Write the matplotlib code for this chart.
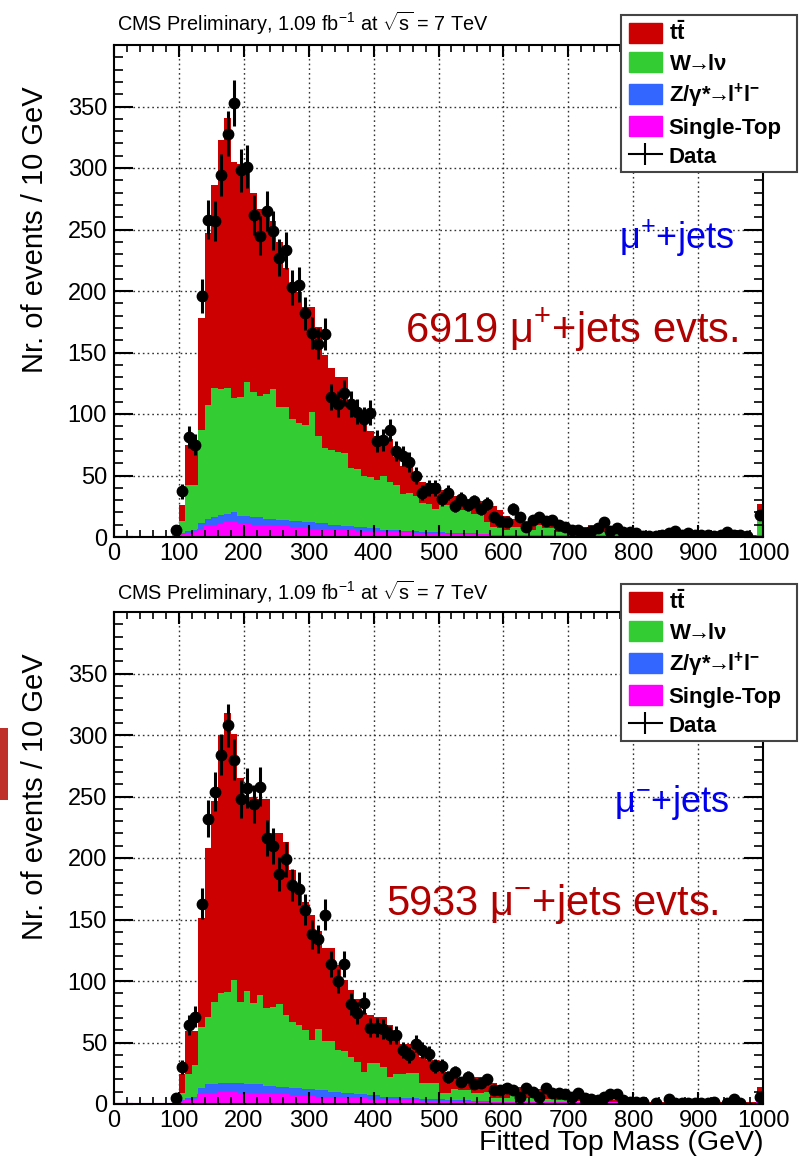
import numpy as np
import matplotlib
matplotlib.use("Agg")
import matplotlib.pyplot as plt
from matplotlib.ticker import MultipleLocator
from matplotlib.lines import Line2D
from matplotlib.patches import Patch, Rectangle

plt.rcParams['font.family'] = ['Liberation Sans', 'DejaVu Sans']
plt.rcParams['mathtext.fontset'] = 'custom'
plt.rcParams['mathtext.rm'] = 'Liberation Sans'
plt.rcParams['mathtext.it'] = 'Liberation Sans:italic'
plt.rcParams['mathtext.bf'] = 'Liberation Sans:bold'

nan = np.nan
bin_edges = np.arange(0, 1001, 10)
x_ticks = [0, 100, 200, 300, 400, 500, 600, 700, 800, 900, 1000]
y_ticks = [0, 50, 100, 150, 200, 250, 300, 350]

# ---------------- mu+ jets (top panel) ----------------
plus_ttbar = [0, 0, 0, 0, 0, 0, 0, 0, 0, 0.5,
              13, 33, 33, 91, 140, 165, 203, 220, 192, 189,
              175, 162, 152, 147, 137, 134, 113, 103, 106, 96,
              85, 89, 76, 66, 61, 62, 54, 47, 42, 37,
              36, 32, 35, 23, 23, 21, 17, 17, 17, 21,
              12, 12, 11, 9, 9, 10, 10, 16, 17, 15,
              11, 7, 6, 7, 7, 2, 4, 4, 6, 6,
              6, 5, 5, 2, 2, 3, 3, 2, 2, 2,
              1.5, 0.8, 0.8, 0.9, 0.7, 0.8, 0.8, 0.7, 0.8, 0.8,
              0.7, 0.8, 0.8, 0.7, 0.8, 0.8, 0.7, 0.8, 0.8, 8]
plus_wjets = [0, 0, 0, 0, 0, 0, 0, 0, 0, 1.0,
              10, 37, 36, 76, 92, 105, 102, 102, 93, 97,
              109, 102, 99, 101, 105, 92, 92, 83, 80, 79,
              90, 71, 61, 61, 59, 59, 47, 47, 42, 42,
              39, 44, 39, 36, 30, 31, 28, 24, 23, 19,
              22, 23, 19, 19, 19, 16, 16.5, 9.5, 6, 5,
              4, 6, 6, 4.5, 4.5, 8.5, 5.5, 5.5, 2.8, 2.8,
              2, 2, 2, 7, 7, 3, 2, 2, 1.2, 1.2,
              0.7, 0.5, 0.5, 0.6, 0.5, 0.5, 0.6, 0.5, 0.5, 0.5,
              0.5, 0.5, 0.6, 0.5, 0.5, 0.5, 0.5, 0.5, 0.5, 17]
plus_zjets = [0, 0, 0, 0, 0, 0, 0, 0, 0, 0.3,
              1.5, 2.5, 3, 5, 7, 7, 8, 8, 9, 7,
              7, 7, 7, 6, 7, 6, 6, 6, 6, 5,
              6, 5, 5, 5, 5, 4, 4, 4, 4, 3,
              3, 3, 3, 3, 2, 2, 2.5, 1.5, 2, 2,
              2, 1, 1, 1.5, 1.5, 1.5, 1, 1, 1, 1,
              1, 1, 1, 0.5, 0.5, 0.5, 0.7, 0.7, 0.4, 0.5,
              0.3, 0.3, 0.4, 0.4, 0.4, 0.5, 0.5, 0.5, 0.3, 0.3,
              0.3, 0.3, 0.3, 0.3, 0.3, 0.3, 0.3, 0.3, 0.3, 0.3,
              0.3, 0.3, 0.3, 0.3, 0.3, 0.3, 0.3, 0.3, 0.3, 1]
plus_stop = [0, 0, 0, 0, 0, 0, 0, 0, 0, 0.2,
             1.5, 2.5, 3, 6, 8, 9, 10, 11, 11, 10,
             10, 9, 9, 9, 8, 8, 8, 7, 7, 7,
             6, 6, 6, 5, 5, 5, 5, 4, 4, 4,
             4, 3, 3, 3, 3, 3, 2.5, 2.5, 2, 2,
             2, 2, 2, 1.5, 1.5, 1.5, 1.5, 1.5, 1, 1,
             1, 1, 1, 1, 1, 1, 0.8, 0.8, 0.8, 0.7,
             0.7, 0.7, 0.6, 0.6, 0.6, 0.5, 0.5, 0.5, 0.5, 0.5,
             0.5, 0.4, 0.4, 0.4, 0.4, 0.4, 0.4, 0.4, 0.4, 0.4,
             0.4, 0.4, 0.4, 0.4, 0.4, 0.4, 0.4, 0.4, 0.4, 1]
plus_data = [nan, nan, nan, nan, nan, nan, nan, nan, nan, 6,
             37, 81, 75, 196, 258, 257, 294, 328, 353, 298,
             301, 262, 245, 265, 249, 227, 233, 203, 205, 182,
             166, 157, 165, 114, 108, 117, 108, 102, 96, 101,
             78, 79, 87, 70, 66, 61, 50, 36, 40, 40,
             31, 36, 25, 31, 26, 29, 23, 27, 16, 13,
             12, 23, 16, 8, 14, 16, 13, 14, 10, 8,
             6, 6, 3, 5, 7, 12, 5, 7, 4, 4,
             3, 1, 1, 1, 2, 3, 5, 2, 3, 2,
             2, 2, 1, 2, 4, 2, 2, 1, nan, 18]

# ---------------- mu- jets (bottom panel) ----------------
minus_ttbar = [0, 0, 0, 0, 0, 0, 0, 0, 0, 0.2,
               15, 35, 27, 88, 137, 163, 210, 227, 200, 182,
               158, 168, 159, 170, 141, 139, 141, 123, 107, 104,
               102, 80, 76, 76, 69, 58, 55, 51, 48, 39,
               38, 41, 42, 31, 25, 24, 22, 21, 19, 19,
               17, 17, 13, 10, 10, 13, 13, 10, 12, 9,
               9, 6, 9, 9, 9, 7, 6, 6, 4.5, 4,
               3, 3, 3, 3, 3, 2, 1.5, 1.5, 1.5, 1.5,
               0.5, 0.5, 0.5, 0.5, 0.5, 0.5, 0.5, 0.5, 0.5, 0.5,
               0.5, 0.5, 0.5, 0.5, 0.5, 0.5, 0.5, 0.5, 0.5, 4.8]
minus_wjets = [0, 0, 0, 0, 0, 0, 0, 0, 0, 0.4,
               6, 19, 26, 50, 55, 67, 73, 74, 84, 66,
               76, 66, 73, 63, 64, 67, 58, 54, 51, 48,
               40, 50, 40, 41, 34, 34, 29, 26, 18, 26,
               26, 24, 16, 18, 19, 20, 20, 13, 13, 13,
               5, 6, 9, 8, 8, 6.5, 6.5, 7.5, 3, 3,
               3, 6, 3.5, 3.5, 3.5, 3.5, 2.5, 2.8, 2.3, 2,
               2, 1.5, 1.5, 1, 1.2, 1.2, 0.7, 0.7, 0.7, 0.7,
               0.4, 0.4, 0.4, 0.4, 0.4, 0.4, 0.4, 0.4, 0.4, 0.4,
               0.4, 0.4, 0.4, 0.4, 0.4, 0.4, 0.4, 0.4, 0.4, 7.2]
minus_zjets = [0, 0, 0, 0, 0, 0, 0, 0, 0, 0.2,
               1.5, 2.5, 3, 6, 8, 8, 8, 8, 8, 9,
               8, 8, 8, 7, 8, 7, 7, 7, 7, 6,
               6, 6, 6, 5, 5, 5, 5, 4, 4, 4,
               4, 3, 3, 3, 2, 2.5, 2.5, 2, 2, 2,
               2, 1, 1.5, 1.5, 1.5, 1, 1, 1.3, 1, 1,
               1, 1, 0.5, 0.5, 0.5, 0.7, 0.7, 0.4, 0.5, 0.3,
               0.4, 0.4, 0.4, 0.5, 0.3, 0.3, 0.3, 0.3, 0.3, 0.3,
               0.2, 0.2, 0.2, 0.2, 0.2, 0.2, 0.2, 0.2, 0.2, 0.2,
               0.2, 0.2, 0.2, 0.2, 0.2, 0.2, 0.2, 0.2, 0.2, 0.7]
minus_stop = [0, 0, 0, 0, 0, 0, 0, 0, 0, 0.2,
              1.5, 2.5, 3, 7, 8, 8, 9, 9, 9, 8,
              8, 8, 8, 8, 7, 7, 7, 6, 6, 6,
              6, 5, 5, 5, 5, 4, 4, 4, 4, 3,
              3, 3, 3, 3, 3, 2.5, 2.5, 2, 2, 2,
              2, 2, 1.5, 1.5, 1.5, 1.5, 1.5, 1.2, 1, 1,
              1, 1, 1, 1, 1, 0.8, 0.8, 0.8, 0.7, 0.7,
              0.6, 0.6, 0.6, 0.5, 0.5, 0.5, 0.5, 0.5, 0.5, 0.5,
              0.4, 0.4, 0.4, 0.4, 0.4, 0.4, 0.4, 0.4, 0.4, 0.4,
              0.4, 0.4, 0.4, 0.4, 0.4, 0.4, 0.4, 0.4, 0.4, 0.8]
minus_data = [nan, nan, nan, nan, nan, nan, nan, nan, nan, 5,
              30, 64, 71, 163, 232, 254, 284, 308, 280, 248,
              257, 244, 258, 216, 210, 187, 199, 178, 175, 158,
              138, 134, 154, 114, 100, 114, 81, 74, 82, 62,
              62, 61, 56, 56, 44, 40, 49, 44, 41, 31,
              31, 22, 26, 18, 22, 16, 17, 20, 11, 11,
              13, 11, 6, 13, 10, 6, 13, 9, 9, 8,
              6, 9, 5, 4, 3, 6, 8, 8, 3, 2,
              2, 2, nan, 1, nan, 4, 1, 1, 1, 1,
              1, 1, 2, nan, 1, 4, 1, nan, nan, 6]

legend_labels = [r'$\mathbf{t\bar{t}}$', r'W$\!\!\mathbf{\rightarrow}\!\!$l$\mathbf{\nu}$',
                 r'Z/$\mathbf{\gamma}$*$\!\!\mathbf{\rightarrow}\!\!$l$^{\mathbf{+}}$l$^{\mathbf{-}}$',
                 'Single-Top', 'Data']
colors = ['#CC0000', '#33CC33', '#3366FF', '#FF00FF']

W, H = 805, 1173
fig = plt.figure(figsize=(W / 100, H / 100), dpi=100)


def px_axes(left, top, right, bottom):
    return fig.add_axes([left / W, 1 - bottom / H, (right - left) / W, (bottom - top) / H])


def draw_panel(ax, tt, wj, zj, st, data, tag, count_text, tag_xy, count_xy):
    tt, wj, zj, st = map(np.asarray, (tt, wj, zj, st))
    c1 = st
    c2 = st + zj
    c3 = c2 + wj
    c4 = c3 + tt
    ax.set_xlim(0, 1000)
    ax.set_ylim(0, 400)
    for xv in x_ticks[1:-1]:
        ax.axvline(xv, color='#333333', lw=1.0, ls=(0, (1.2, 2.2)), zorder=0.3)
    for yv in y_ticks[1:]:
        ax.axhline(yv, color='#333333', lw=1.0, ls=(0, (1.2, 2.2)), zorder=0.3)
    for vals, col, z in zip([c4, c3, c2, c1], colors, [1.0, 1.1, 1.2, 1.3]):
        ax.stairs(vals, bin_edges, fill=True, color=col, lw=0, zorder=z)
    ax.stairs(c1, bin_edges, color=colors[3], lw=1.5, zorder=1.35)
    d = np.asarray(data, dtype=float)
    centers = 0.5 * (bin_edges[:-1] + bin_edges[1:])
    ok = ~np.isnan(d)
    ax.errorbar(centers[ok], d[ok], yerr=np.sqrt(d[ok]), xerr=5, fmt='o', color='black',
                ms=7.5, elinewidth=2.2, capsize=0, zorder=3)
    ax.xaxis.set_minor_locator(MultipleLocator(20))
    ax.yaxis.set_minor_locator(MultipleLocator(10))
    ax.set_xticks(x_ticks)
    ax.set_yticks(y_ticks)
    ax.tick_params(which='both', direction='in', top=True, right=True, labelsize=17)
    ax.tick_params(axis='y', which='major', length=14, width=1.5, pad=5)
    ax.tick_params(axis='y', which='minor', length=6.5, width=1.2)
    ax.tick_params(axis='x', which='major', length=8.5, width=1.5, pad=4)
    ax.tick_params(axis='x', which='minor', length=5, width=1.2)
    for sp in ax.spines.values():
        sp.set_linewidth(1.5)
        sp.set_zorder(4)
    ax.text(tag_xy[0], tag_xy[1], tag, color='#0000EE', fontsize=26, ha='right', va='center', zorder=5)
    ax.text(count_xy[0], count_xy[1], count_text, color='#B00000', fontsize=30, ha='right',
            va='center', zorder=5)


ax1 = px_axes(114, 45, 763, 537)
draw_panel(ax1, plus_ttbar, plus_wjets, plus_zjets, plus_stop, plus_data,
           r'$\mathrm{\mu}^{+}$+jets', r'6919 $\mathrm{\mu}^{+}$+jets evts.', (955, 243), (962, 168))
ax2 = px_axes(114, 612, 763, 1104)
draw_panel(ax2, minus_ttbar, minus_wjets, minus_zjets, minus_stop, minus_data,
           r'$\mathrm{\mu}^{\mathrm{-}}$+jets', r'5933 $\mathrm{\mu}^{\mathrm{-}}$+jets evts.', (948, 245), (932, 163))

handles = [Patch(facecolor=c, edgecolor=c) for c in colors]
handles.append(Line2D([0], [0], color='black', lw=1.5, marker='|', ms=16, mew=1.5))

for top_px in (15, 584):
    fig.text(117 / W, 1 - (top_px + 8) / H,
             r'CMS Preliminary, 1.09 fb$^{-1}$ at $\sqrt{\mathrm{s}}$ = 7 TeV',
             fontsize=14.3, ha='left', va='center')
    box = Rectangle((621 / W, 1 - (top_px + 157) / H), 176 / W, 157 / H, transform=fig.transFigure,
                    facecolor='white', edgecolor='#444444', lw=1.5, zorder=9)
    fig.patches.append(box)
    leg = fig.legend(handles, legend_labels, loc='upper left',
                     bbox_to_anchor=(623 / W, 1 - (top_px + 1) / H),
                     bbox_transform=fig.transFigure,
                     prop={'weight': 'bold', 'size': 16}, frameon=False,
                     handlelength=1.5, handleheight=1.0, handletextpad=0.3, labelspacing=0.3,
                     borderpad=0.25, borderaxespad=0)
    leg.set_zorder(10)

fig.text(35 / W, 1 - 230 / H, 'Nr. of events / 10 GeV', rotation=90, fontsize=21,
         ha='center', va='center')
fig.text(35 / W, 1 - 797 / H, 'Nr. of events / 10 GeV', rotation=90, fontsize=21,
         ha='center', va='center')
fig.text(763 / W, 1 - 1130 / H, 'Fitted Top Mass (GeV)', fontsize=20.5, ha='right', va='top')

fig.patches.append(Rectangle((0, 1 - 800 / H), 8 / W, 72 / H, transform=fig.transFigure,
                             facecolor='#C0302A', edgecolor='none'))

fig.savefig('out.png', dpi=100)
